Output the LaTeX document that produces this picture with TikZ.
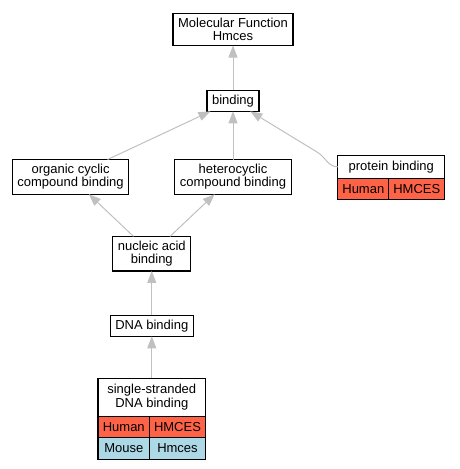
\documentclass[tikz,border=0pt]{standalone}
\usepackage{fontspec}
\setmainfont{Liberation Sans}
\usetikzlibrary{arrows.meta, positioning, calc}

\definecolor{edgegray}{HTML}{C0C0C0}
\definecolor{humanred}{HTML}{FF6347}
\definecolor{mouseblue}{HTML}{ADD8E6}

\begin{document}
\begin{tikzpicture}[
  x=1pt, y=1pt,
  box/.style={
    rectangle, draw=black, line width=1.2pt, fill=white, align=center,
    inner xsep=5pt, inner ysep=4.5pt, outer sep=0pt,
    font=\fontsize{13}{13.5}\selectfont
  },
  cell/.style={
    rectangle, draw=black, line width=1.2pt, inner sep=0pt, outer sep=0pt,
    minimum height=21.5pt, anchor=north west,
    font=\fontsize{13}{13.5}\selectfont
  },
  arr/.style={-{Triangle[length=12pt, width=9pt]}, draw=edgegray, line width=1pt}
]
  \useasboundingbox (0,0) rectangle (459,469);

  % Nodes
  \node[box] (mf) at (233,439.5) {Molecular Function\\Hmces};
  \node[box, below=44.7pt of mf] (binding) {binding};
  \node[box, below=48.2pt of binding] (hetero) {heterocyclic\\compound binding};
  \node[box, left=46.2pt of hetero] (organic) {organic cyclic\\compound binding};
  \node[box, minimum width=107pt, minimum height=23pt, right=46.7pt of hetero, yshift=10pt]
    (pbhead) {protein binding};
  \node[cell, fill=humanred, minimum width=51pt] (pbhuman) at (pbhead.south west) {Human};
  \node[cell, fill=humanred, minimum width=56pt] (pbgene) at (pbhuman.north east) {HMCES};
  \node[box, below=42.2pt of {$(organic.south)!0.5!(hetero.south)$}] (nucleic) {nucleic acid\\binding};
  \node[box, below=44.2pt of nucleic] (dna) {DNA binding};
  \node[box, minimum width=107.4pt, minimum height=37.7pt, below=42.2pt of dna]
    (sshead) {single-stranded\\DNA binding};
  \node[cell, fill=humanred, minimum width=51.4pt] (sshuman) at (sshead.south west) {Human};
  \node[cell, fill=humanred, minimum width=56pt] (ssgene) at (sshuman.north east) {HMCES};
  \node[cell, fill=mouseblue, minimum width=51.4pt] (ssmouse) at (sshuman.south west) {Mouse};
  \node[cell, fill=mouseblue, minimum width=56pt] (ssmgene) at (ssmouse.north east) {Hmces};
  \coordinate (pbbend) at (317,317);

  % Arrows
  \draw[arr] (binding) -- (mf);
  \draw[arr] (hetero)  -- (binding);
  \draw[arr] (organic) -- (binding);
  \draw[arr] (pbhead.west) to[out=180, in=-30] (pbbend) -- (binding);
  \draw[arr] (nucleic) -- (organic);
  \draw[arr] (nucleic) -- (hetero);
  \draw[arr] (dna)     -- (nucleic);
  \draw[arr] (sshead)  -- (dna);
\end{tikzpicture}
\end{document}
